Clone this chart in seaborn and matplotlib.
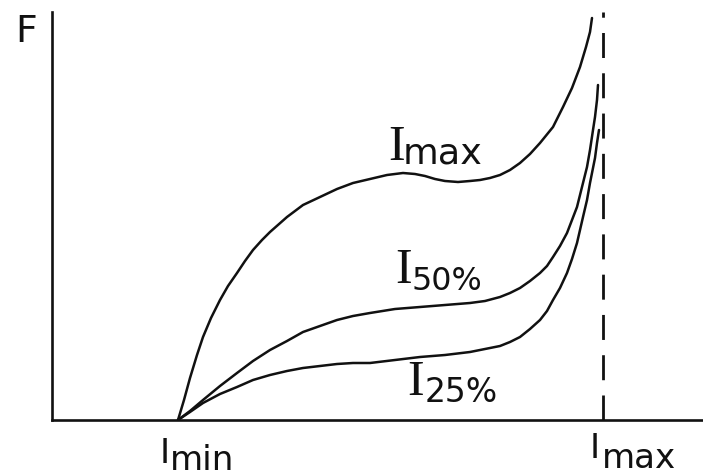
# -------------------------------------------------------
# schematic: force F versus current I, three levels
# -------------------------------------------------------

import seaborn as sns
import matplotlib.pyplot as plt
from matplotlib import font_manager


# curve points, x = current, y = force
x_imax = [126, 132, 138, 145, 151, 159, 168, 176, 185, 193,
          201, 210, 218, 235, 251, 268, 285, 301, 318, 335,
          351, 363, 373, 383, 393, 406, 418, 428, 438, 448,
          458, 468, 478, 488, 501, 511, 520, 528, 534, 538, 540]
y_imax = [0, 20, 42, 65, 83, 102, 120, 134, 147, 159,
          170, 180, 188, 203, 215, 223, 231, 237, 241, 245,
          247, 246, 244, 241, 239, 238, 239, 240, 242, 245,
          250, 257, 266, 277, 293, 313, 332, 353, 373, 388, 402]

x_i50 = [126, 138, 151, 168, 185, 201, 218, 235, 251, 268,
         285, 301, 318, 343, 368, 393, 418, 433, 448, 458,
         468, 478, 488, 495, 501, 508, 515, 520, 525, 531,
         535, 538, 541, 543, 545, 546]
y_i50 = [0, 9, 20, 34, 47, 59, 70, 79, 88, 94,
         100, 104, 107, 111, 113, 115, 117, 119, 123, 127,
         132, 139, 147, 154, 163, 174, 187, 200, 213, 237,
         253, 270, 290, 303, 320, 335]

x_i25 = [126, 138, 151, 168, 185, 201, 218, 235, 251, 268,
         285, 301, 318, 343, 368, 393, 418, 433, 448, 458,
         468, 478, 488, 495, 501, 508, 515, 520, 525, 531,
         535, 538, 541, 543, 545, 547]
y_i25 = [0, 8, 17, 26, 33, 40, 45, 49, 52, 54,
         56, 57, 57, 60, 63, 65, 68, 71, 74, 78,
         83, 91, 100, 109, 120, 132, 147, 161, 177, 203,
         220, 237, 252, 262, 277, 290]

i_min = 126   # start of the curves on the I axis
i_max = 551   # dashed limit line

# curve labels: (suffix, x of I, baseline of I, x of suffix, baseline of suffix, size)
curve_labels = [('max', 336, 260, 351, 257, 32),
                ('50%', 343, 137, 360, 130, 28),
                ('25%', 355, 25, 373, 18, 29)]


def narrow_font():
    names = {f.name for f in font_manager.fontManager.ttflist}
    if 'Liberation Sans Narrow' in names:
        return 'Liberation Sans Narrow', 1.0
    return 'DejaVu Sans', 0.82


sns.set_style('white')
fam, k = narrow_font()

fig = plt.figure(figsize=(7.03, 4.76), dpi=100)
ax = fig.add_axes([52 / 703, 56 / 476, 651 / 703, 408 / 476])

ink = '#111111'
for xs, ys in [(x_imax, y_imax), (x_i50, y_i50), (x_i25, y_i25)]:
    sns.lineplot(x=xs, y=ys, ax=ax, color=ink, lw=1.8, sort=False, estimator=None)

ax.axvline(x=i_max, color=ink, lw=2, linestyle=(0, (9, 5.5)))

ax.set_xlim(0, 651)
ax.set_ylim(0, 408)
ax.set_xticks([])
ax.set_yticks([])
ax.set_xlabel('')
ax.set_ylabel('')
for side in ['top', 'right']:
    ax.spines[side].set_visible(False)
for side in ['left', 'bottom']:
    ax.spines[side].set_color(ink)
    ax.spines[side].set_linewidth(1.9)

# curve labels
for small, xi, yi, xs, ys, size in curve_labels:
    ax.text(xi, yi, 'I', family='Liberation Serif', fontsize=36, color=ink, va='baseline')
    ax.text(xs, ys, small, family=fam, fontsize=size * k, color=ink, va='baseline')

# axis labels
ax.text(-37, 378, 'F', family=fam, fontsize=33 * k, color=ink, va='baseline', clip_on=False)
ax.text(i_min - 18, -43, 'I', family=fam, fontsize=30 * k, color=ink, va='baseline', clip_on=False)
ax.text(i_min - 8, -50, 'min', family=fam, fontsize=30 * k, color=ink, va='baseline', clip_on=False)
ax.text(i_max - 13, -38, 'I', family=fam, fontsize=30 * k, color=ink, va='baseline', clip_on=False)
ax.text(i_max - 1, -48, 'max', family=fam, fontsize=30 * k, color=ink, va='baseline', clip_on=False)

fig.savefig('out.png', dpi=100)
